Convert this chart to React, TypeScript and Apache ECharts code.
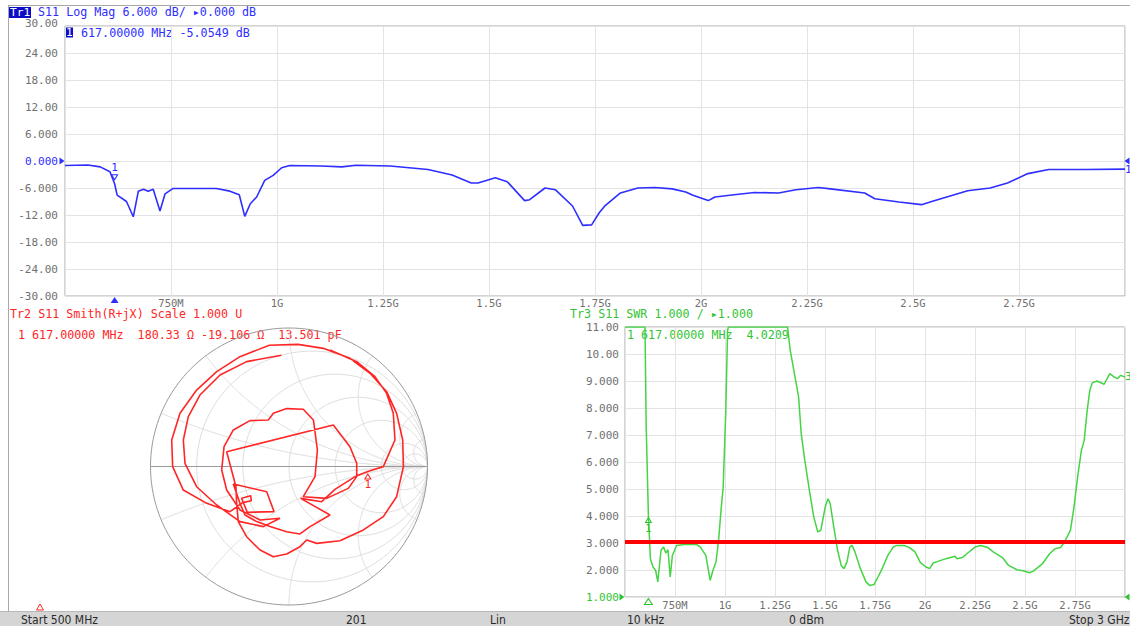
import React, { useEffect, useRef } from "react";
import * as echarts from "echarts";

// ---------- data ----------
const freqTickLabels = ["500M", "750M", "1G", "1.25G", "1.5G", "1.75G", "2G", "2.25G", "2.5G", "2.75G", "3G"];
const logMagTickLabels = ["-30.00", "-24.00", "-18.00", "-12.00", "-6.000", "0.000", "6.000", "12.00", "18.00", "24.00", "30.00"];
const swrTickLabels = ["1.000", "2.000", "3.000", "4.000", "5.000", "6.000", "7.000", "8.000", "9.000", "10.00", "11.00"];

const logMagFreq = [500, 554, 583, 606, 617, 623, 645, 661, 673, 685, 696, 708, 724, 736, 755, 857, 889, 911, 924, 937, 952, 971, 991, 1011, 1030, 1105, 1153, 1186, 1267, 1356, 1413, 1458, 1474, 1515, 1543, 1584, 1596, 1632, 1657, 1697, 1721, 1742, 1760, 1774, 1810, 1851, 1891, 1932, 1964, 1981, 2017, 2033, 2078, 2126, 2183, 2224, 2277, 2305, 2386, 2410, 2467, 2520, 2548, 2629, 2682, 2723, 2771, 2820, 2905, 3000];
const logMagDb = [-1.0, -0.9, -1.3, -2.4, -5.05, -7.6, -9.0, -12.4, -6.7, -6.3, -6.7, -6.3, -11.1, -7.3, -6.1, -6.1, -6.7, -7.5, -12.3, -9.5, -8.0, -4.3, -3.2, -1.5, -1.0, -1.1, -1.3, -0.95, -1.1, -1.9, -3.1, -4.9, -4.9, -3.7, -4.6, -8.8, -8.6, -6.0, -6.4, -10.0, -14.3, -14.2, -11.5, -9.9, -7.1, -6.0, -5.9, -6.2, -6.9, -7.6, -8.8, -8.0, -7.5, -7.0, -7.1, -6.4, -5.9, -6.2, -7.1, -8.4, -9.1, -9.7, -8.9, -6.6, -6.0, -4.9, -2.8, -1.9, -1.9, -1.8];

const swrFreq = [500, 591, 600, 606, 617, 627, 640, 653, 664, 680, 693, 704, 715, 726, 737, 758, 795, 858, 877, 904, 926, 940, 955, 968, 980, 991, 1004, 1013, 1017, 1313, 1326, 1350, 1368, 1381, 1399, 1422, 1444, 1464, 1479, 1501, 1515, 1526, 1544, 1563, 1581, 1595, 1610, 1624, 1635, 1650, 1677, 1705, 1723, 1745, 1765, 1786, 1814, 1841, 1859, 1896, 1923, 1950, 1977, 2005, 2023, 2041, 2068, 2105, 2150, 2159, 2187, 2214, 2250, 2278, 2314, 2341, 2387, 2418, 2460, 2496, 2523, 2541, 2587, 2623, 2651, 2678, 2692, 2710, 2727, 2745, 2763, 2782, 2796, 2811, 2824, 2836, 2860, 2896, 2924, 2945, 2964, 2978, 3000];
const swrValue = [11, 11, 11, 7.3, 4.02, 2.42, 2.11, 1.99, 1.56, 2.73, 2.85, 2.63, 2.75, 1.74, 2.54, 2.91, 2.94, 2.94, 2.85, 2.54, 1.62, 1.99, 2.30, 3.10, 4.21, 5.07, 7.91, 10.88, 11, 11, 10.14, 9.15, 8.41, 7.05, 6.06, 4.95, 3.96, 3.41, 3.47, 4.33, 4.64, 4.46, 3.59, 2.73, 2.17, 2.05, 2.30, 2.85, 2.91, 2.67, 2.05, 1.56, 1.43, 1.46, 1.74, 2.05, 2.54, 2.85, 2.91, 2.91, 2.83, 2.67, 2.27, 2.11, 2.05, 2.26, 2.33, 2.42, 2.51, 2.42, 2.46, 2.63, 2.85, 2.91, 2.83, 2.67, 2.46, 2.17, 2.01, 1.96, 1.90, 1.96, 2.23, 2.60, 2.79, 2.83, 2.98, 3.22, 3.47, 4.33, 5.44, 6.43, 6.80, 7.91, 8.65, 8.93, 9.00, 8.88, 9.27, 9.15, 9.09, 9.21, 9.15];

const smithRe = [0.296, 0.489, 0.621, 0.705, 0.753, 0.765, 0.681, 0.569, 0.477, 0.332, 0.236, 0.084, 0.296, 0.152, 0.079, -0.017, -0.137, -0.233, -0.318, -0.354, -0.402, -0.161, -0.108, -0.301, -0.342, -0.277, -0.272, -0.335, -0.426, -0.594, -0.763, -0.840, -0.847, -0.787, -0.667, -0.522, -0.354, -0.142, 0.065, 0.248, 0.440, 0.585, 0.705, 0.777, 0.821, 0.826, 0.777, 0.681, 0.537, 0.368, 0.200, 0.128, 0.079, -0.017, -0.113, -0.209, -0.306, -0.366, -0.378, -0.383, -0.450, 0.320, 0.440, 0.489, 0.489, 0.428, 0.272, 0.103, 0.188, 0.205, 0.176, 0.103, -0.017, -0.113, -0.149, -0.282, -0.402, -0.469, -0.486, -0.450, -0.354, -0.209, -0.065, -0.185, -0.354, -0.522, -0.667, -0.751, -0.763, -0.727, -0.643, -0.498, -0.306, -0.055];
const smithIm = [0.841, 0.757, 0.649, 0.528, 0.384, 0.191, -0.001, -0.036, -0.073, -0.165, -0.254, -0.230, -0.350, -0.434, -0.487, -0.471, -0.434, -0.398, -0.350, -0.266, -0.126, -0.182, -0.326, -0.331, -0.230, -0.211, -0.247, -0.261, -0.326, -0.266, -0.170, -0.001, 0.191, 0.384, 0.552, 0.685, 0.793, 0.875, 0.882, 0.853, 0.781, 0.673, 0.540, 0.384, 0.191, -0.001, -0.218, -0.362, -0.458, -0.536, -0.555, -0.531, -0.579, -0.632, -0.651, -0.603, -0.507, -0.398, -0.266, -0.146, 0.107, 0.300, 0.143, 0.023, -0.073, -0.158, -0.230, -0.218, -0.073, 0.119, 0.336, 0.413, 0.418, 0.384, 0.336, 0.331, 0.264, 0.143, -0.025, -0.170, -0.314, -0.386, -0.374, -0.434, -0.398, -0.278, -0.146, 0.023, 0.191, 0.360, 0.516, 0.661, 0.757, 0.803];

const markerFreq = 617;
const markerDb = -5.0549;
const markerSwr = 4.0209;
const markerGamma = [0.569, -0.036];
const swrLimit = 3.05;
const smithRCircles = [0.2, 0.5, 1, 2, 5, 10];
const smithXArcs = [0.2, 0.5, 1, 2, 5, 10, -0.2, -0.5, -1, -2, -5, -10];

// ---------- styles ----------
const MONO = "'DejaVu Sans Mono', 'Liberation Mono', monospace";
const NARROW = "'Liberation Sans Narrow', 'DejaVu Sans Condensed', 'Liberation Sans', sans-serif";
const BLUE = "#2e2eff";
const BLUE_DARK = "#0c0cc8";
const RED = "#ff2626";
const GREEN = "#45d445";
const GREEN_TEXT = "#33c433";
const GRID = "#e3e3e3";
const FRAME = "#a8a8a8";
const LABEL = "#707070";
const SMITH_GRID = "#dedede";
const SMITH_OUTER = "#9a9a9a";

const TRI_RIGHT = "path://M0,0 L10,5 L0,10 Z";
const TRI_LEFT = "path://M10,0 L0,5 L10,10 Z";
const TRI_DOWN = "path://M0,0 L10,0 L5,9 Z";
const TRI_UP = "path://M5,0 L10,9 L0,9 Z";

// ---------- Smith grid helpers ----------
const steps = Array.from({ length: 161 }, (_, k) => k / 160);
function zToGamma(r: number, x: number): number[] {
  const d = (r + 1) * (r + 1) + x * x;
  return [(r * r - 1 + x * x) / d, (2 * x) / d];
}
function xArc(x: number): number[][] {
  return steps.map((t) => (t < 1 ? zToGamma(t / (1 - t), x) : [1, 0]));
}
function rCircle(r: number): number[][] {
  const c = r / (1 + r);
  const rad = 1 / (1 + r);
  return steps.map((t) => {
    const a = 2 * Math.PI * t;
    return [c + rad * Math.cos(a), rad * Math.sin(a)];
  });
}

function freqLabel(v: number): string {
  return freqTickLabels[Math.round((v - 500) / 250)] ?? "";
}

function buildOption(): any {
  const logMagData = logMagFreq.map((f, i) => [f, logMagDb[i]]);
  const swrData = swrFreq.map((f, i) => [f, swrValue[i]]);
  const smithData = smithRe.map((re, i) => [re, smithIm[i]]);

  const gridLine = (data: number[][], color: string, z: number) => ({
    type: "line", xAxisIndex: 1, yAxisIndex: 1, data, symbol: "none", silent: true, clip: false,
    lineStyle: { color, width: 1 }, z,
  });
  const smithGridSeries: any[] = [
    ...smithRCircles.map((r) => gridLine(rCircle(r), SMITH_GRID, 1)),
    ...smithXArcs.map((x) => gridLine(xArc(x), SMITH_GRID, 1)),
    gridLine(rCircle(0), SMITH_OUTER, 2),
    gridLine([[-1, 0], [1, 0]], SMITH_OUTER, 2),
  ];

  const labelBase = { color: LABEL, fontFamily: MONO, fontSize: 11 };

  const text = (x: number, y: number, t: string, fill: string, size = 11.7, family = MONO) => ({
    type: "text",
    x,
    y,
    silent: true,
    style: { text: t, fill, fontSize: size, fontFamily: family, verticalAlign: "middle", align: "left", lineHeight: size },
  });

  return {
    animation: false,
    backgroundColor: "#ffffff",
    grid: [
      { left: 65, top: 26, width: 1060, height: 270, show: true, borderColor: FRAME, borderWidth: 1, outerBoundsMode: "none" },
      { left: 150.5, top: 328, width: 277, height: 277, show: false, outerBoundsMode: "none" },
      { left: 625, top: 327, width: 500, height: 270, show: true, borderColor: FRAME, borderWidth: 1, outerBoundsMode: "none" },
    ],
    xAxis: [
      {
        gridIndex: 0, type: "value", min: 500, max: 3000, interval: 250,
        axisLine: { show: false }, axisTick: { show: false },
        splitLine: { show: true, lineStyle: { color: GRID } },
        axisLabel: { ...labelBase, fontSize: 10.5, formatter: freqLabel, showMinLabel: false, showMaxLabel: false, margin: 1 },
      },
      { gridIndex: 1, type: "value", min: -1, max: 1, show: false },
      {
        gridIndex: 2, type: "value", min: 500, max: 3000, interval: 250,
        axisLine: { show: false }, axisTick: { show: false },
        splitLine: { show: true, lineStyle: { color: GRID } },
        axisLabel: { ...labelBase, fontSize: 10.5, formatter: freqLabel, showMinLabel: false, showMaxLabel: false, margin: 2 },
      },
    ],
    yAxis: [
      {
        gridIndex: 0, type: "value", min: -30, max: 30, interval: 6,
        axisLine: { show: false }, axisTick: { show: false },
        splitLine: { show: true, lineStyle: { color: GRID } },
        axisLabel: {
          ...labelBase, margin: 7,
          formatter: (v: number) => {
            const s = logMagTickLabels[Math.round((v + 30) / 6)] ?? "";
            if (v === 0) return `{ref|${s}}`;
            if (v === 30) return `{top|${s}}`;
            return s;
          },
          rich: {
            ref: { color: BLUE, fontFamily: MONO, fontSize: 11 },
            top: { color: LABEL, fontFamily: MONO, fontSize: 11, lineHeight: 10, padding: [0, 0, 5, 0] },
          },
        },
      },
      { gridIndex: 1, type: "value", min: -1, max: 1, show: false },
      {
        gridIndex: 2, type: "value", min: 1, max: 11, interval: 1,
        axisLine: { show: false }, axisTick: { show: false },
        splitLine: { show: true, lineStyle: { color: GRID } },
        axisLabel: {
          ...labelBase, margin: 6,
          formatter: (v: number) => {
            const s = swrTickLabels[Math.round(v - 1)] ?? "";
            return v === 1 ? `{ref|${s}}` : s;
          },
          rich: { ref: { color: GREEN_TEXT, fontFamily: MONO, fontSize: 11 } },
        },
      },
    ],
    series: [
      ...smithGridSeries,
      {
        type: "line", name: "LogMag", xAxisIndex: 0, yAxisIndex: 0, data: logMagData,
        symbol: "none", lineStyle: { color: BLUE, width: 1.6 }, itemStyle: { color: BLUE }, z: 3,
        endLabel: { show: true, formatter: "1", color: BLUE, fontFamily: MONO, fontSize: 11, distance: 0 },
        markPoint: {
          silent: true, animation: false, label: { show: false },
          data: [
            {
              coord: [markerFreq, markerDb], symbol: TRI_DOWN, symbolSize: [6, 5], symbolOffset: [0, -6.5],
              itemStyle: { color: "rgba(0,0,0,0)", borderColor: BLUE, borderWidth: 1 },
              label: { show: true, formatter: "1", position: "top", distance: 1, color: BLUE, fontFamily: MONO, fontSize: 11 },
            },
            { coord: [markerFreq, -30], symbol: TRI_UP, symbolSize: [8, 6], symbolOffset: [0, 4], itemStyle: { color: BLUE } },
            { coord: [500, 0], symbol: TRI_RIGHT, symbolSize: [5, 7], symbolOffset: [-3, 0], itemStyle: { color: BLUE } },
            { coord: [3000, 0], symbol: TRI_LEFT, symbolSize: [5, 7], symbolOffset: [2, 0], itemStyle: { color: BLUE } },
          ],
        },
      },
      {
        type: "line", name: "Smith", xAxisIndex: 1, yAxisIndex: 1, data: smithData,
        symbol: "none", clip: false, lineStyle: { color: RED, width: 1.6 }, itemStyle: { color: RED }, z: 4,
        markPoint: {
          silent: true, animation: false, label: { show: false },
          data: [
            {
              coord: markerGamma, symbol: TRI_UP, symbolSize: [6, 5], symbolOffset: [0, 5],
              itemStyle: { color: "rgba(0,0,0,0)", borderColor: RED, borderWidth: 1 },
              label: { show: true, formatter: "1", position: "bottom", distance: 0, color: RED, fontFamily: MONO, fontSize: 11 },
            },
          ],
        },
      },
      {
        type: "line", name: "SWR", xAxisIndex: 2, yAxisIndex: 2, data: swrData,
        symbol: "none", lineStyle: { color: GREEN, width: 1.5 }, itemStyle: { color: GREEN }, z: 3,
        endLabel: { show: true, formatter: "3", color: GREEN_TEXT, fontFamily: MONO, fontSize: 11, distance: 0 },
        markLine: {
          silent: true, symbol: ["none", "none"], animation: false, label: { show: false },
          lineStyle: { color: "#ff0000", width: 4, type: "solid" },
          data: [{ yAxis: swrLimit }],
        },
        markPoint: {
          silent: true, animation: false, label: { show: false },
          data: [
            {
              coord: [markerFreq, markerSwr], symbol: TRI_UP, symbolSize: [6, 5], symbolOffset: [0, 4.5],
              itemStyle: { color: "rgba(0,0,0,0)", borderColor: GREEN_TEXT, borderWidth: 1 },
              label: { show: true, formatter: "1", position: "bottom", distance: 0, color: GREEN_TEXT, fontFamily: MONO, fontSize: 11 },
            },
            {
              coord: [markerFreq, 1], symbol: TRI_UP, symbolSize: [8, 6], symbolOffset: [0, 4.5],
              itemStyle: { color: "rgba(0,0,0,0)", borderColor: GREEN_TEXT, borderWidth: 1 },
            },
            { coord: [500, 1], symbol: TRI_RIGHT, symbolSize: [5, 7], symbolOffset: [-3, 0], itemStyle: { color: GREEN_TEXT } },
            { coord: [3000, 1], symbol: TRI_LEFT, symbolSize: [5, 7], symbolOffset: [2, 0], itemStyle: { color: GREEN_TEXT } },
          ],
        },
      },
    ],
    graphic: [
      { type: "line", silent: true, shape: { x1: 8, y1: 5.5, x2: 1130, y2: 5.5 }, style: { stroke: FRAME, lineWidth: 1 } },
      { type: "line", silent: true, shape: { x1: 8.5, y1: 5, x2: 8.5, y2: 611 }, style: { stroke: FRAME, lineWidth: 1 } },
      { type: "rect", silent: true, shape: { x: 9, y: 7, width: 22, height: 11 }, style: { fill: BLUE_DARK } },
      text(10, 12.5, "Tr1", "#ffffff", 11.2),
      text(38, 12, "S11 Log Mag 6.000 dB/ \u25B80.000 dB", BLUE),
      { type: "rect", silent: true, shape: { x: 65.5, y: 27.5, width: 7.5, height: 10 }, style: { fill: BLUE_DARK } },
      text(66, 32.5, "1", "#ffffff", 11.2),
      text(81, 32.5, "617.00000 MHz -5.0549 dB", BLUE),
      text(10, 314, "Tr2 S11 Smith(R+jX) Scale 1.000 U", RED),
      text(18, 334.5, "1 617.00000 MHz  180.33 \u03A9 -19.106 \u03A9  13.501 pF", RED),
      text(570, 314, "Tr3 S11 SWR 1.000 / \u25B81.000", GREEN_TEXT),
      text(627, 334.5, "1 617.00000 MHz  4.0209", GREEN_TEXT),
      { type: "polygon", silent: true, shape: { points: [[36.5, 610], [43.5, 610], [40, 604]] }, style: { fill: "none", stroke: RED, lineWidth: 1 } },
      { type: "rect", silent: true, shape: { x: 0, y: 612, width: 1130, height: 14 }, style: { fill: "#d5d5d5" } },
      { type: "line", silent: true, shape: { x1: 0, y1: 611.5, x2: 1130, y2: 611.5 }, style: { stroke: "#b8b8b8", lineWidth: 1 } },
      text(21, 619.5, "Start 500 MHz", "#2a2a2a", 12, NARROW),
      text(346, 619.5, "201", "#2a2a2a", 12, NARROW),
      text(490, 619.5, "Lin", "#2a2a2a", 12, NARROW),
      text(627, 619.5, "10 kHz", "#2a2a2a", 12, NARROW),
      text(789, 619.5, "0 dBm", "#2a2a2a", 12, NARROW),
      text(1069, 619.5, "Stop 3 GHz", "#2a2a2a", 12, NARROW),
    ],
  };
}

export default function App() {
  const ref = useRef<HTMLDivElement>(null);
  useEffect(() => {
    document.body.style.margin = "0";
    const chart = echarts.init(ref.current as HTMLDivElement, null, { renderer: "svg" });
    chart.setOption(buildOption());
    return () => chart.dispose();
  }, []);
  return (
    <div
      ref={ref}
      style={{ position: "absolute", left: 0, top: 0, width: 1130, height: 626, background: "#ffffff" }}
    />
  );
}
